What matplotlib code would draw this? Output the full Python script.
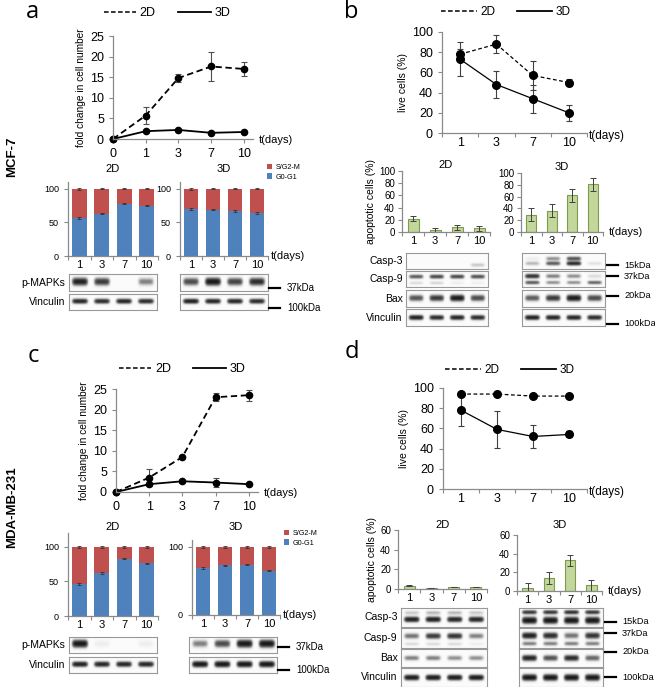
import numpy as np
import matplotlib
matplotlib.use("Agg")
import matplotlib.pyplot as plt
from matplotlib.lines import Line2D

plt.rcParams['font.family'] = ['Liberation Sans', 'DejaVu Sans']

W, H = 655, 687

# ---- data ----
DAYS_GROWTH = ['0', '1', '3', '7', '10']
DAYS = ['1', '3', '7', '10']

# fold change in cell number
MCF7_GROWTH_2D = [0, 5.7, 14.8, 17.6, 17.0]
MCF7_GROWTH_2D_ERR = [0, 2.1, 0.9, 3.5, 1.7]
MCF7_GROWTH_3D = [0, 1.9, 2.2, 1.5, 1.7]
MCF7_GROWTH_3D_ERR = [0, 0.3, 0.2, 0.2, 0.2]
MDA_GROWTH_2D = [0, 3.5, 8.5, 23.0, 23.5]
MDA_GROWTH_2D_ERR = [0, 2.0, 0.3, 1.0, 1.3]
MDA_GROWTH_3D = [0, 1.9, 2.6, 2.3, 1.9]
MDA_GROWTH_3D_ERR = [0, 0.2, 0.3, 1.0, 0.3]

# live cells (%)
MCF7_LIVE_2D = [78, 88, 57, 50]
MCF7_LIVE_2D_ERR = [5, 9, 14, 3]
MCF7_LIVE_3D = [73, 48, 34, 20]
MCF7_LIVE_3D_ERR = [17, 13, 14, 8]
MDA_LIVE_2D = [94, 94, 92, 92]
MDA_LIVE_2D_ERR = [1, 1, 1, 1]
MDA_LIVE_3D = [78, 59, 52, 54]
MDA_LIVE_3D_ERR = [16, 18, 11, 3]

# cell cycle, G0-G1 fraction (%), rest is S/G2-M
MCF7_G0G1_2D = [56, 63, 78, 75]
MCF7_G0G1_3D = [70, 69, 67, 64]
MDA_G0G1_2D = [46, 62, 83, 76]
MDA_G0G1_3D = [69, 73, 74, 65]
CYCLE_ERR = [1.5, 1.0, 1.0, 1.0]

# apoptotic cells (%)
MCF7_APO_2D = [22, 3, 8, 6]
MCF7_APO_2D_ERR = [4, 3, 4, 4]
MCF7_APO_3D = [29, 36, 62, 81]
MCF7_APO_3D_ERR = [11, 11, 11, 11]
MDA_APO_2D = [3.5, 1, 2, 2]
MDA_APO_2D_ERR = [0.5, 0.3, 0.3, 0.3]
MDA_APO_3D = [3, 14, 33, 6]
MDA_APO_3D_ERR = [6, 6, 6, 6]

# western blot band intensities per lane (0 = none, 1 = saturated)
MCF7_2D_PMAPK = [0.9, 0.7, 0.0, 0.35]
MCF7_2D_VINC = [0.85, 0.8, 0.85, 0.8]
MCF7_3D_PMAPK = [0.6, 1.0, 0.65, 0.8]
MCF7_3D_VINC = [0.9, 0.85, 0.85, 0.8]
MCF7_2D_CASP3 = [0.0, 0.0, 0.0, 0.15]
MCF7_2D_CASP9_HI = [0.5, 0.6, 0.6, 0.55]
MCF7_2D_CASP9_LO = [0.1, 0.12, 0.05, 0.05]
MCF7_2D_BAX = [0.55, 0.7, 0.95, 0.6]
MCF7_2D_VINC2 = [0.9, 0.8, 0.85, 0.8]
MCF7_3D_CASP3_HI = [0.05, 0.3, 0.55, 0.0]
MCF7_3D_CASP3_LO = [0.2, 0.5, 0.8, 0.08]
MCF7_3D_CASP9_HI = [0.75, 0.35, 0.3, 0.1]
MCF7_3D_CASP9_LO = [0.5, 0.3, 0.3, 0.45]
MCF7_3D_BAX = [0.5, 0.7, 0.95, 0.6]
MCF7_3D_VINC2 = [0.9, 0.85, 0.85, 0.8]

MDA_2D_PMAPK = [1.0, 0.05, 0.0, 0.05]
MDA_2D_VINC = [0.9, 0.85, 0.85, 0.85]
MDA_3D_PMAPK = [0.35, 0.6, 1.0, 1.0]
MDA_3D_VINC = [1.0, 1.0, 1.0, 1.0]
MDA_2D_CASP3_HI = [0.15, 0.2, 0.2, 0.15]
MDA_2D_CASP3_LO = [0.9, 0.9, 0.85, 0.85]
MDA_2D_CASP9_HI = [0.4, 0.7, 0.75, 0.35]
MDA_2D_CASP9_LO = [0.1, 0.1, 0.1, 0.05]
MDA_2D_BAX = [0.35, 0.35, 0.3, 0.3]
MDA_2D_VINC2 = [0.95, 0.95, 0.95, 0.95]
MDA_3D_CASP3_HI = [0.7, 0.7, 0.75, 0.7]
MDA_3D_CASP3_LO = [1.0, 1.0, 1.0, 1.0]
MDA_3D_CASP9_HI = [0.9, 0.8, 0.4, 0.75]
MDA_3D_CASP9_LO = [0.35, 0.35, 0.35, 0.35]
MDA_3D_BAX = [0.85, 0.55, 0.8, 0.45]
MDA_3D_VINC2 = [1.0, 1.0, 1.0, 1.0]

AXIS_GREY = '#8a8a8a'
BLUE = '#4f81bd'
RED = '#c0504d'
GREEN = '#c3d69b'
GREEN_EDGE = '#7e9c4d'

fig = plt.figure(figsize=(W / 100, H / 100), dpi=100)


def add_ax(x0, y0, x1, y1):
    # pixel box (top-left origin) -> figure fraction
    return fig.add_axes([x0 / W, 1 - y1 / H, (x1 - x0) / W, (y1 - y0) / H])


def style_axes(ax):
    ax.spines['top'].set_visible(False)
    ax.spines['right'].set_visible(False)
    for s in ('left', 'bottom'):
        ax.spines[s].set_color(AXIS_GREY)
        ax.spines[s].set_linewidth(0.9)
    ax.tick_params(colors=AXIS_GREY, labelcolor='black', width=0.8, length=3)


def category_ticks(ax, fontsize):
    # Excel-style: tick marks between categories, labels at centres
    ax.set_xlim(0, 4)
    ax.set_xticks(range(5))
    ax.set_xticklabels([])
    ax.set_xticks(np.arange(4) + 0.5, minor=True)
    ax.set_xticklabels(DAYS, minor=True, fontsize=fontsize)
    ax.tick_params(axis='x', which='minor', length=0, pad=3)


def tdays(ax, fontsize, dx=3, dy=0):
    ax.annotate('t(days)', xy=(1, 0), xycoords='axes fraction', xytext=(dx, dy),
                textcoords='offset points', va='center', ha='left', fontsize=fontsize)


def line_legend(cx, cy, fontsize, hl):
    handles = [Line2D([], [], color='k', ls='--', lw=1.1, dashes=(3, 1.6)),
               Line2D([], [], color='k', ls='-', lw=1.3)]
    fig.legend(handles, ['2D', '3D'], loc='center', bbox_to_anchor=(cx / W, 1 - cy / H),
               ncol=2, frameon=False, fontsize=fontsize, handlelength=hl,
               handletextpad=0.3, columnspacing=1.8, borderpad=0)


def growth_panel(box, m2, e2, m3, e3):
    ax = add_ax(*box)
    x = np.arange(len(DAYS_GROWTH))
    for m, e, ls in ((m2, e2, '--'), (m3, e3, '-')):
        c = ax.errorbar(x, m, yerr=e, ls=ls, color='k', lw=1.3, marker='o', ms=4.5,
                        ecolor='#505050', elinewidth=0.8, capsize=2, capthick=0.8)
        if ls == '--':
            c.lines[0].set_dashes((3.5, 2))
        for art in c.get_children():
            art.set_clip_on(False)
    ax.set_xlim(0, 4.28)
    ax.set_ylim(0, 25)
    ax.set_xticks(x)
    ax.set_xticklabels(DAYS_GROWTH, fontsize=9)
    ax.set_yticks(range(0, 26, 5))
    ax.tick_params(axis='y', labelsize=9)
    style_axes(ax)
    ax.set_ylabel('fold change in cell number', fontsize=7.3, labelpad=3)
    tdays(ax, 8, dx=4, dy=-1)
    return ax


def live_panel(box, m2, e2, m3, e3):
    ax = add_ax(*box)
    x = np.arange(4) + 0.5
    for m, e, ls in ((m2, e2, '--'), (m3, e3, '-')):
        c = ax.errorbar(x, m, yerr=e, ls=ls, color='k', lw=0.9, marker='o', ms=5.5,
                        ecolor='#404040', elinewidth=0.8, capsize=2.5, capthick=0.8)
        if ls == '--':
            c.lines[0].set_dashes((3, 2))
        for art in c.get_children():
            art.set_clip_on(False)
    category_ticks(ax, 9)
    ax.set_ylim(0, 100)
    ax.set_yticks(range(0, 101, 20))
    ax.tick_params(axis='y', labelsize=9)
    style_axes(ax)
    ax.tick_params(axis='x', which='minor', length=0)
    ax.set_ylabel('live cells (%)', fontsize=7.5, labelpad=3)
    tdays(ax, 8.5, dx=1, dy=-2)
    return ax


def cycle_panel(box, g0, ylim, yticks, title, pad):
    ax = add_ax(*box)
    x = np.arange(4) + 0.5
    g0 = np.array(g0)
    blue = ax.bar(x, g0, width=0.66, color=BLUE)
    red = ax.bar(x, 100 - g0, bottom=g0, width=0.66, color=RED)
    ax.errorbar(x, g0, yerr=CYCLE_ERR, fmt='none', ecolor='#333333', elinewidth=0.6,
                capsize=1.2, capthick=0.6)
    ax.errorbar(x, np.full(4, 100), yerr=CYCLE_ERR, fmt='none', ecolor='#333333',
                elinewidth=0.6, capsize=1.2, capthick=0.6)
    category_ticks(ax, 8)
    ax.set_ylim(*ylim)
    ax.set_yticks(yticks)
    ax.tick_params(axis='y', labelsize=6.5)
    style_axes(ax)
    ax.tick_params(axis='x', which='minor', length=0)
    ax.set_title(title, fontsize=8, pad=pad)
    return ax, red, blue


def apo_panel(box, vals, err, ylim, yticks, title, pad, ylabel=False):
    ax = add_ax(*box)
    x = np.arange(4) + 0.5
    ax.bar(x, vals, width=0.5, color=GREEN, edgecolor=GREEN_EDGE, linewidth=0.8)
    ax.errorbar(x, vals, yerr=err, fmt='none', ecolor='#404040', elinewidth=0.7,
                capsize=2, capthick=0.7)
    category_ticks(ax, 8)
    ax.set_ylim(*ylim)
    ax.set_yticks(yticks)
    ax.tick_params(axis='y', labelsize=7, pad=2)
    style_axes(ax)
    ax.tick_params(axis='x', which='minor', length=0)
    ax.set_title(title, fontsize=8, pad=pad)
    if ylabel:
        ax.set_ylabel('apoptotic cells (%)', fontsize=7.5, labelpad=2)
    return ax


def blot(box, rows, label=None):
    ax = add_ax(*box)
    nx, ny = 200, 40
    xs = (np.arange(nx) + 0.5) / nx * 4
    ys = (np.arange(ny) + 0.5) / ny
    X, Y = np.meshgrid(xs, ys)
    img = np.zeros_like(X)
    for vals, yc, sig in rows:
        for i, v in enumerate(vals):
            img += v * np.exp(-((X - (i + 0.5)) / 0.34) ** 6) * np.exp(-((Y - yc) / sig) ** 2)
    # film-like saturation
    img = (1 - np.exp(-2.4 * img)) * 0.97 + 0.03
    ax.imshow(img, cmap='Greys', vmin=0, vmax=1, extent=(0, 4, 0, 1), origin='lower',
              aspect='auto', interpolation='bilinear')
    ax.set_xticks([])
    ax.set_yticks([])
    for s in ax.spines.values():
        s.set_color('#999999')
        s.set_linewidth(0.8)
    if label:
        ax.text(-0.04, 0.5, label, transform=ax.transAxes, ha='right', va='center',
                fontsize=7.5)
    return ax


def kda(x0, y, text, fs=7, gap=18):
    fig.add_artist(Line2D([x0 / W, (x0 + 11) / W], [1 - y / H] * 2, color='k', lw=1.6))
    fig.text((x0 + gap) / W, 1 - y / H, text, fontsize=fs, va='center', ha='left')


# ---------------- panel a (MCF-7 growth) ----------------
fig.text(26 / W, 1 - 18 / H, 'a', fontsize=17, family='Open Sans')
line_legend(167, 13, 9, 2.6)
growth_panel((113, 36, 253, 139), MCF7_GROWTH_2D, MCF7_GROWTH_2D_ERR,
             MCF7_GROWTH_3D, MCF7_GROWTH_3D_ERR)

ax, red, blue = cycle_panel((68, 182, 158, 256), MCF7_G0G1_2D, (0, 110), [0, 50, 100], '2D', 7)
ax, red, blue = cycle_panel((180, 182, 268, 256), MCF7_G0G1_3D, (0, 110), [0, 50, 100], '3D', 7)
tdays(ax, 8, dx=2)
ax.legend([red, blue], ['S/G2-M', 'G0-G1'], loc='upper left',
          bbox_to_anchor=(263 / W, 1 - 160 / H), bbox_transform=fig.transFigure,
          frameon=False, fontsize=5.2, handlelength=0.8, handleheight=0.8,
          handletextpad=0.4, labelspacing=0.35, borderpad=0)

blot((69, 274, 157, 291), [(MCF7_2D_PMAPK, 0.55, 0.2)], 'p-MAPKs')
blot((69, 294, 157, 310), [(MCF7_2D_VINC, 0.55, 0.14)], 'Vinculin')
blot((180, 274, 268, 291), [(MCF7_3D_PMAPK, 0.55, 0.2)])
blot((180, 294, 268, 310), [(MCF7_3D_VINC, 0.55, 0.14)])
kda(269, 288, '37kDa')
kda(269, 308, '100kDa')

fig.text(12 / W, 1 - 157 / H, 'MCF-7', rotation=90, fontsize=9.5, fontweight='bold',
         ha='center', va='center')

# ---------------- panel b (MCF-7 death) ----------------
fig.text(344 / W, 1 - 18 / H, 'b', fontsize=17, family='Open Sans')
line_legend(506, 12, 8.5, 3.0)
live_panel((442, 32, 587, 133), MCF7_LIVE_2D, MCF7_LIVE_2D_ERR, MCF7_LIVE_3D, MCF7_LIVE_3D_ERR)

apo_panel((402, 171, 490, 232), MCF7_APO_2D, MCF7_APO_2D_ERR, (0, 100), range(0, 101, 20),
          '2D', 2, ylabel=True)
ax = apo_panel((521, 173, 603, 232), MCF7_APO_3D, MCF7_APO_3D_ERR, (0, 100),
               range(0, 101, 20), '3D', 2)
tdays(ax, 8, dx=4)

blot((406, 253, 488, 269), [(MCF7_2D_CASP3, 0.25, 0.12)], 'Casp-3')
blot((406, 271, 488, 287), [(MCF7_2D_CASP9_HI, 0.65, 0.12), (MCF7_2D_CASP9_LO, 0.25, 0.1)],
     'Casp-9')
blot((406, 290, 488, 307), [(MCF7_2D_BAX, 0.5, 0.16)], 'Bax')
blot((406, 309, 488, 326), [(MCF7_2D_VINC2, 0.5, 0.13)], 'Vinculin')
blot((522, 253, 605, 269), [(MCF7_3D_CASP3_HI, 0.65, 0.12), (MCF7_3D_CASP3_LO, 0.35, 0.12)])
blot((522, 271, 605, 287), [(MCF7_3D_CASP9_HI, 0.68, 0.13), (MCF7_3D_CASP9_LO, 0.28, 0.11)])
blot((522, 290, 605, 307), [(MCF7_3D_BAX, 0.5, 0.16)])
blot((522, 309, 605, 326), [(MCF7_3D_VINC2, 0.5, 0.13)])
kda(607, 265, '15kDa', 6.6, 17)
kda(607, 276, '37kDa', 6.6, 17)
kda(607, 296, '20kDa', 6.6, 17)
kda(607, 324, '100kDa', 6.6, 17)

# ---------------- panel c (MDA-MB-231 growth) ----------------
fig.text(28 / W, 1 - 362 / H, 'c', fontsize=17, family='Open Sans')
line_legend(182, 369, 9, 2.6)
growth_panel((116, 389, 258, 492), MDA_GROWTH_2D, MDA_GROWTH_2D_ERR,
             MDA_GROWTH_3D, MDA_GROWTH_3D_ERR)

ax, red, blue = cycle_panel((68, 533, 158, 616), MDA_G0G1_2D, (0, 120), [0, 50, 100], '2D', 2)
ax, red, blue = cycle_panel((192, 540, 280, 615), MDA_G0G1_3D, (0, 110), [0, 100], '3D', 7)
tdays(ax, 8, dx=2)
ax.legend([red, blue], ['S/G2-M', 'G0-G1'], loc='upper left',
          bbox_to_anchor=(280 / W, 1 - 526 / H), bbox_transform=fig.transFigure,
          frameon=False, fontsize=5.2, handlelength=0.8, handleheight=0.8,
          handletextpad=0.4, labelspacing=0.35, borderpad=0)

blot((69, 637, 157, 653), [(MDA_2D_PMAPK, 0.55, 0.2)], 'p-MAPKs')
blot((69, 657, 157, 673), [(MDA_2D_VINC, 0.55, 0.15)], 'Vinculin')
blot((189, 637, 277, 653), [(MDA_3D_PMAPK, 0.55, 0.2)])
blot((189, 657, 277, 673), [(MDA_3D_VINC, 0.55, 0.17)])
kda(278, 647, '37kDa')
kda(278, 670, '100kDa')

fig.text(12 / W, 1 - 507 / H, 'MDA-MB-231', rotation=90, fontsize=9.5, fontweight='bold',
         ha='center', va='center')

# ---------------- panel d (MDA-MB-231 death) ----------------
fig.text(345 / W, 1 - 358 / H, 'd', fontsize=17, family='Open Sans')
line_legend(510, 370, 8.5, 3.0)
live_panel((443, 388, 587, 489), MDA_LIVE_2D, MDA_LIVE_2D_ERR, MDA_LIVE_3D, MDA_LIVE_3D_ERR)

apo_panel((398, 530, 487, 589), MDA_APO_2D, MDA_APO_2D_ERR, (0, 60), range(0, 61, 20),
          '2D', 1, ylabel=True)
ax = apo_panel((517, 535, 602, 591), MDA_APO_3D, MDA_APO_3D_ERR, (0, 60),
               range(0, 61, 20), '3D', 5)
tdays(ax, 8, dx=4)

blot((401, 608, 487, 627), [(MDA_2D_CASP3_HI, 0.75, 0.1), (MDA_2D_CASP3_LO, 0.4, 0.13)], 'Casp-3')
blot((401, 628, 487, 648), [(MDA_2D_CASP9_HI, 0.6, 0.13), (MDA_2D_CASP9_LO, 0.2, 0.09)], 'Casp-9')
blot((401, 649, 487, 667), [(MDA_2D_BAX, 0.5, 0.13)], 'Bax')
blot((401, 668, 487, 687), [(MDA_2D_VINC2, 0.5, 0.13)], 'Vinculin')
blot((519, 608, 603, 627), [(MDA_3D_CASP3_HI, 0.78, 0.1), (MDA_3D_CASP3_LO, 0.35, 0.16)])
blot((519, 628, 603, 648), [(MDA_3D_CASP9_HI, 0.62, 0.14), (MDA_3D_CASP9_LO, 0.22, 0.1)])
blot((519, 649, 603, 667), [(MDA_3D_BAX, 0.5, 0.15)])
blot((519, 668, 603, 687), [(MDA_3D_VINC2, 0.5, 0.15)])
kda(605, 622, '15kDa', 6.6, 17)
kda(605, 633, '37kDa', 6.6, 17)
kda(605, 652, '20kDa', 6.6, 17)
kda(605, 677, '100kDa', 6.6, 17)

fig.savefig('out.png', dpi=100)
